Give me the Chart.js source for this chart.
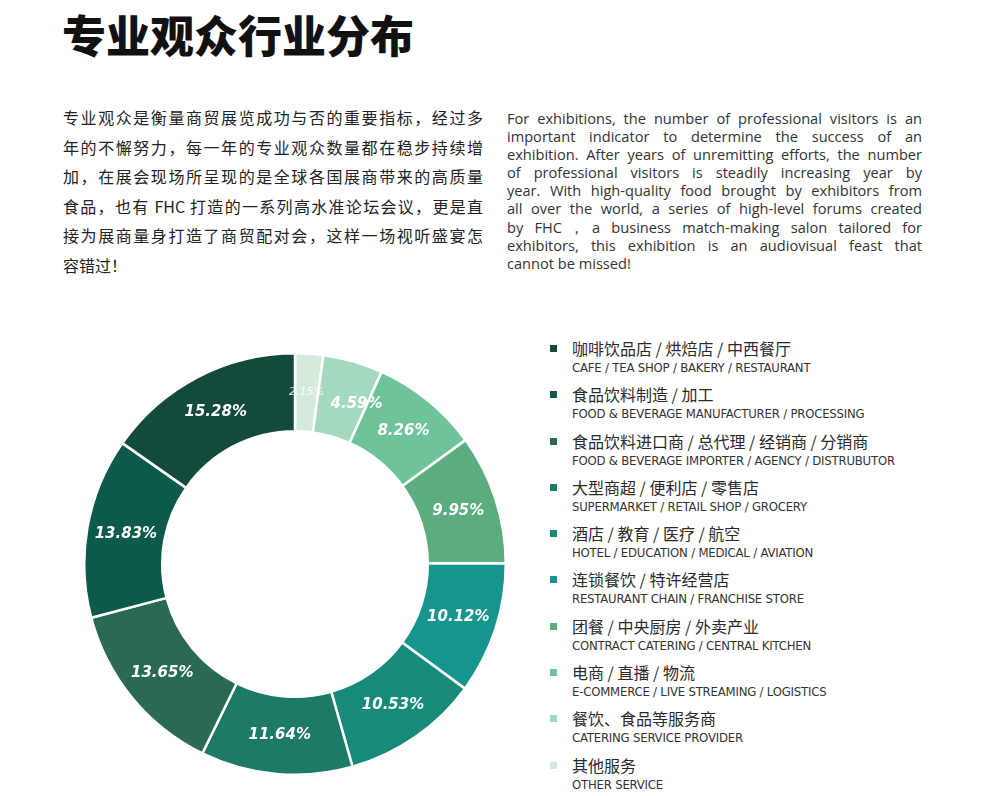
<!DOCTYPE html>
<html>
<head>
<meta charset="utf-8">
<script src="https://cdn.jsdelivr.net/npm/chart.js@4"></script>
<style>
  html, body { margin: 0; padding: 0; background: #fff; }
  body { width: 998px; height: 796px; position: relative; overflow: hidden; }
  #title {
    position: absolute; left: 62px; top: 6px;
    font-family: "Noto Sans CJK SC", sans-serif; font-weight: 900;
    font-size: 44px; line-height: 56px; color: #111;
  }
  #cnText {
    position: absolute; left: 63px; top: 103px; width: 420px;
    font-family: "Noto Sans CJK SC", sans-serif; font-size: 16px;
    line-height: 29.6px; color: #222;
  }
  #enText {
    position: absolute; left: 507px; top: 109px; width: 415px;
    font-family: "Open Sans", "DejaVu Sans", sans-serif; font-size: 14.6px;
    line-height: 18.1px; color: #333;
  }
  .jl { text-align: justify; text-align-last: justify; white-space: nowrap; }
  .ll { white-space: nowrap; }
  #chartBox { position: absolute; left: 83px; top: 352px; width: 424px; height: 424px; }
  #legend { position: absolute; left: 548px; top: 336px; }
  .item { height: 46.3px; position: relative; }
  .sw { position: absolute; left: 2px; top: 9px; width: 7px; height: 7px; }
  .cn {
    position: absolute; left: 24px; top: 0px; white-space: nowrap;
    font-family: "Noto Sans CJK SC", sans-serif; font-size: 16px; line-height: 24px; color: #2a2a2a;
  }
  .en {
    position: absolute; left: 24px; top: 23px; white-space: nowrap;
    font-family: "Liberation Sans Narrow", "DejaVu Sans Condensed", sans-serif;
    font-size: 13px; line-height: 17px; color: #333; letter-spacing: -0.2px;
  }
</style>
</head>
<body>
<div id="title">专业观众行业分布</div>

<div id="cnText">
  <div class="jl">专业观众是衡量商贸展览成功与否的重要指标，经过多</div>
  <div class="jl">年的不懈努力，每一年的专业观众数量都在稳步持续增</div>
  <div class="jl">加，在展会现场所呈现的是全球各国展商带来的高质量</div>
  <div class="jl">食品，也有 FHC 打造的一系列高水准论坛会议，更是直</div>
  <div class="jl">接为展商量身打造了商贸配对会，这样一场视听盛宴怎</div>
  <div class="ll">容错过！</div>
</div>

<div id="enText">
  <div class="jl">For exhibitions, the number of professional visitors is an</div>
  <div class="jl">important indicator to determine the success of an</div>
  <div class="jl">exhibition. After years of unremitting efforts, the number</div>
  <div class="jl">of professional visitors is steadily increasing year by</div>
  <div class="jl">year. With high-quality food brought by exhibitors from</div>
  <div class="jl">all over the world, a series of high-level forums created</div>
  <div class="jl">by FHC，a business match-making salon tailored for</div>
  <div class="jl">exhibitors, this exhibition is an audiovisual feast that</div>
  <div class="ll">cannot be missed!</div>
</div>

<div id="chartBox"><canvas id="donut" width="424" height="424"></canvas></div>
<div id="legend"></div>

<script>
// legend order (darkest first)
const labelsCn = [
  "咖啡饮品店 / 烘焙店 / 中西餐厅",
  "食品饮料制造 / 加工",
  "食品饮料进口商 / 总代理 / 经销商 / 分销商",
  "大型商超 / 便利店 / 零售店",
  "酒店 / 教育 / 医疗 / 航空",
  "连锁餐饮 / 特许经营店",
  "团餐 / 中央厨房 / 外卖产业",
  "电商 / 直播 / 物流",
  "餐饮、食品等服务商",
  "其他服务"
];
const labelsEn = [
  "CAFE / TEA SHOP / BAKERY / RESTAURANT",
  "FOOD & BEVERAGE MANUFACTURER / PROCESSING",
  "FOOD & BEVERAGE IMPORTER / AGENCY / DISTRUBUTOR",
  "SUPERMARKET / RETAIL SHOP / GROCERY",
  "HOTEL / EDUCATION / MEDICAL / AVIATION",
  "RESTAURANT CHAIN / FRANCHISE STORE",
  "CONTRACT CATERING / CENTRAL KITCHEN",
  "E-COMMERCE / LIVE STREAMING / LOGISTICS",
  "CATERING SERVICE PROVIDER",
  "OTHER SERVICE"
];
const shares = [15.28, 13.83, 13.65, 11.64, 10.53, 10.12, 9.95, 8.26, 4.59, 2.15];
const colors = ["#144a3c", "#0c5a4a", "#2b6a52", "#1d7a64", "#188a7a", "#16958f", "#5bac7e", "#6ec39a", "#a4d9c0", "#d4ebdb"];

// legend
const legendEl = document.getElementById("legend");
labelsCn.forEach((cn, i) => {
    const item = document.createElement("div");
    item.className = "item";
    item.innerHTML = `<div class="sw" style="background:${colors[i]}"></div>` +
        `<div class="cn">${cn}</div><div class="en">${labelsEn[i].replace(/&/g, "&amp;")}</div>`;
    legendEl.appendChild(item);
});

// the ring runs clockwise from the top starting with the smallest share
const ringValues = shares.slice().reverse();
const ringColors = colors.slice().reverse();
const ringLabels = labelsCn.slice().reverse();

// percentage labels in the ring; a label that would hit the previous one
// is slid a little further round the ring
const pctLabels = {
    id: "pctLabels",
    afterDatasetsDraw(chart) {
        const { ctx } = chart;
        const meta = chart.getDatasetMeta(0);
        ctx.save();
        ctx.textAlign = "center";
        ctx.textBaseline = "middle";
        let prevBox = null;
        meta.data.forEach((arc, i) => {
            const v = ringValues[i];
            const small = v < 3;
            ctx.font = small ? "italic 11px 'DejaVu Sans', sans-serif"
                             : "italic bold 15px 'DejaVu Sans', sans-serif";
            ctx.fillStyle = small ? "rgba(255,255,255,0.9)" : "#ffffff";
            const text = v.toFixed(2) + "%";
            const w = ctx.measureText(text).width;
            const h = small ? 11 : 15;
            const r = (arc.innerRadius + arc.outerRadius) / 2;
            let a = (arc.startAngle + arc.endAngle) / 2;
            let x, y, box;
            for (let k = 0; k < 80; k++) {
                x = arc.x + r * Math.cos(a);
                y = arc.y + r * Math.sin(a);
                box = { l: x - w / 2, r: x + w / 2, t: y - h / 2, b: y + h / 2 };
                const hit = prevBox && box.l < prevBox.r + 6 && box.r > prevBox.l - 6 &&
                    box.t < prevBox.b && box.b > prevBox.t;
                if (!hit) break;
                a += Math.PI / 360;
            }
            ctx.fillText(text, x, y);
            prevBox = box;
        });
        ctx.restore();
    }
};

new Chart(document.getElementById("donut"), {
    type: "doughnut",
    data: {
        labels: ringLabels,
        datasets: [{
            data: ringValues,
            backgroundColor: ringColors,
            borderColor: "#ffffff",
            borderWidth: 2.5
        }]
    },
    options: {
        responsive: false,
        maintainAspectRatio: false,
        animation: false,
        cutout: "63%",
        plugins: {
            legend: { display: false },
            tooltip: { enabled: false }
        }
    },
    plugins: [pctLabels]
});
</script>
</body>
</html>
